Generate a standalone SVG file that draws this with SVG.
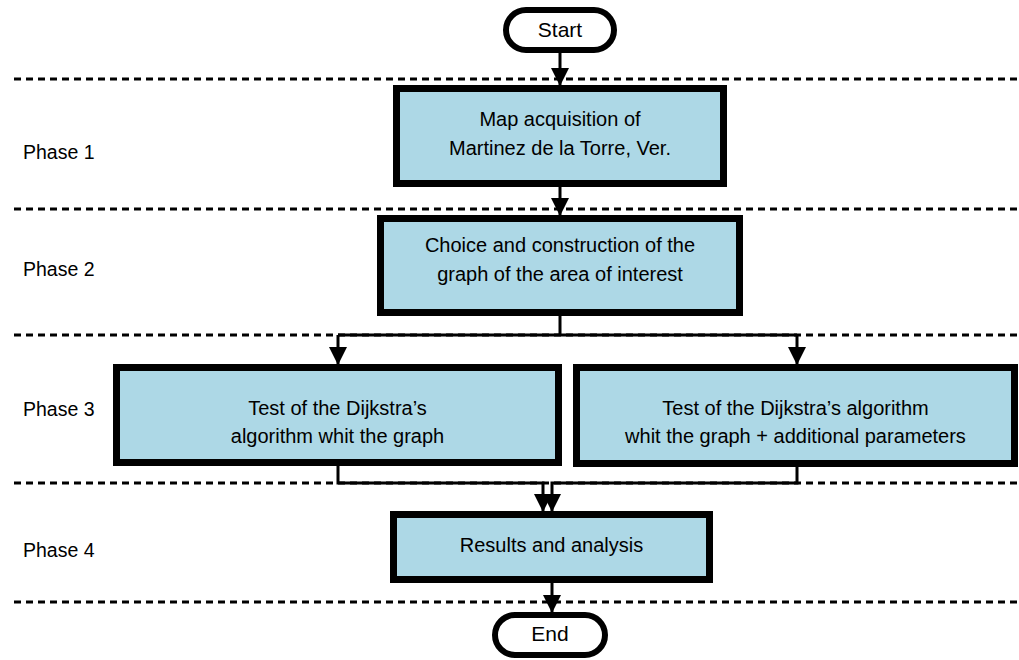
<svg xmlns="http://www.w3.org/2000/svg" width="1019" height="660" viewBox="0 0 1019 660">
<style>
.bg{fill:#ffffff}
.dash{stroke:#000;stroke-width:3;stroke-dasharray:7 5;fill:none}
.box{fill:#add8e6;stroke:#000;stroke-width:7}
.term{fill:#ffffff;stroke:#000;stroke-width:6}
.conn{stroke:#000;stroke-width:3;fill:none}
.t{font-family:"Liberation Sans",Arial,sans-serif;font-size:20px;fill:#000;text-anchor:middle}
.ph{font-family:"Liberation Sans",Arial,sans-serif;font-size:19.5px;fill:#000}
</style>
<defs>
<marker id="arr" markerUnits="userSpaceOnUse" markerWidth="20" markerHeight="20" refX="18" refY="9" orient="auto">
<path d="M0,0 L18,9 L0,18 z" fill="#000"/>
</marker>
</defs>
<rect class="bg" x="0" y="0" width="1019" height="660"/>
<g id="phases">
<line class="dash" x1="14" y1="79" x2="1017" y2="79"/>
<line class="dash" x1="14" y1="209" x2="1017" y2="209"/>
<line class="dash" x1="14" y1="335" x2="1017" y2="335"/>
<line class="dash" x1="14" y1="483" x2="1017" y2="483"/>
<line class="dash" x1="14" y1="602" x2="1017" y2="602"/>
<text class="ph" x="23" y="159">Phase 1</text>
<text class="ph" x="23" y="276">Phase 2</text>
<text class="ph" x="23" y="416">Phase 3</text>
<text class="ph" x="23" y="557">Phase 4</text>
</g>
<g id="connectors">
<line class="conn" x1="560" y1="53" x2="560" y2="86" marker-end="url(#arr)"/>
<line class="conn" x1="560" y1="187" x2="560" y2="216" marker-end="url(#arr)"/>
<polyline class="conn" points="560,316 560,335"/>
<polyline class="conn" points="338,335 797,335"/>
<line class="conn" x1="338" y1="335" x2="338" y2="365" marker-end="url(#arr)"/>
<line class="conn" x1="797" y1="335" x2="797" y2="365" marker-end="url(#arr)"/>
<polyline class="conn" points="338,466 338,483 543,483 543,512" marker-end="url(#arr)"/>
<polyline class="conn" points="797,467 797,483 552,483 552,512" marker-end="url(#arr)"/>
<line class="conn" x1="552" y1="583" x2="552" y2="613" marker-end="url(#arr)"/>
</g>
<g id="start">
<rect class="term" x="506" y="10" width="108" height="40" rx="20"/>
<text class="t" x="560" y="37" style="font-size:21px">Start</text>
</g>
<g id="map">
<rect class="box" x="396.5" y="88.5" width="327" height="95"/>
<text class="t" x="560" y="126">Map acquisition of</text>
<text class="t" x="560" y="155">Martinez de la Torre, Ver.</text>
</g>
<g id="choice">
<rect class="box" x="380.5" y="218.5" width="359" height="94"/>
<text class="t" x="560" y="252">Choice and construction of the</text>
<text class="t" x="560" y="281">graph of the area of interest</text>
</g>
<g id="test1">
<rect class="box" x="116.5" y="367.5" width="442" height="95"/>
<text class="t" x="337.5" y="415">Test of the Dijkstra’s</text>
<text class="t" x="337.5" y="443">algorithm whit the graph</text>
</g>
<g id="test2">
<rect class="box" x="576.5" y="367.5" width="438" height="96"/>
<text class="t" x="795.5" y="415">Test of the Dijkstra’s algorithm</text>
<text class="t" x="795.5" y="443">whit the graph + additional parameters</text>
</g>
<g id="results">
<rect class="box" x="393.5" y="514.5" width="316" height="65"/>
<text class="t" x="551.5" y="552">Results and analysis</text>
</g>
<g id="end">
<rect class="term" x="495" y="615" width="110" height="40" rx="20"/>
<text class="t" x="550" y="641" style="font-size:21px">End</text>
</g>
</svg>
